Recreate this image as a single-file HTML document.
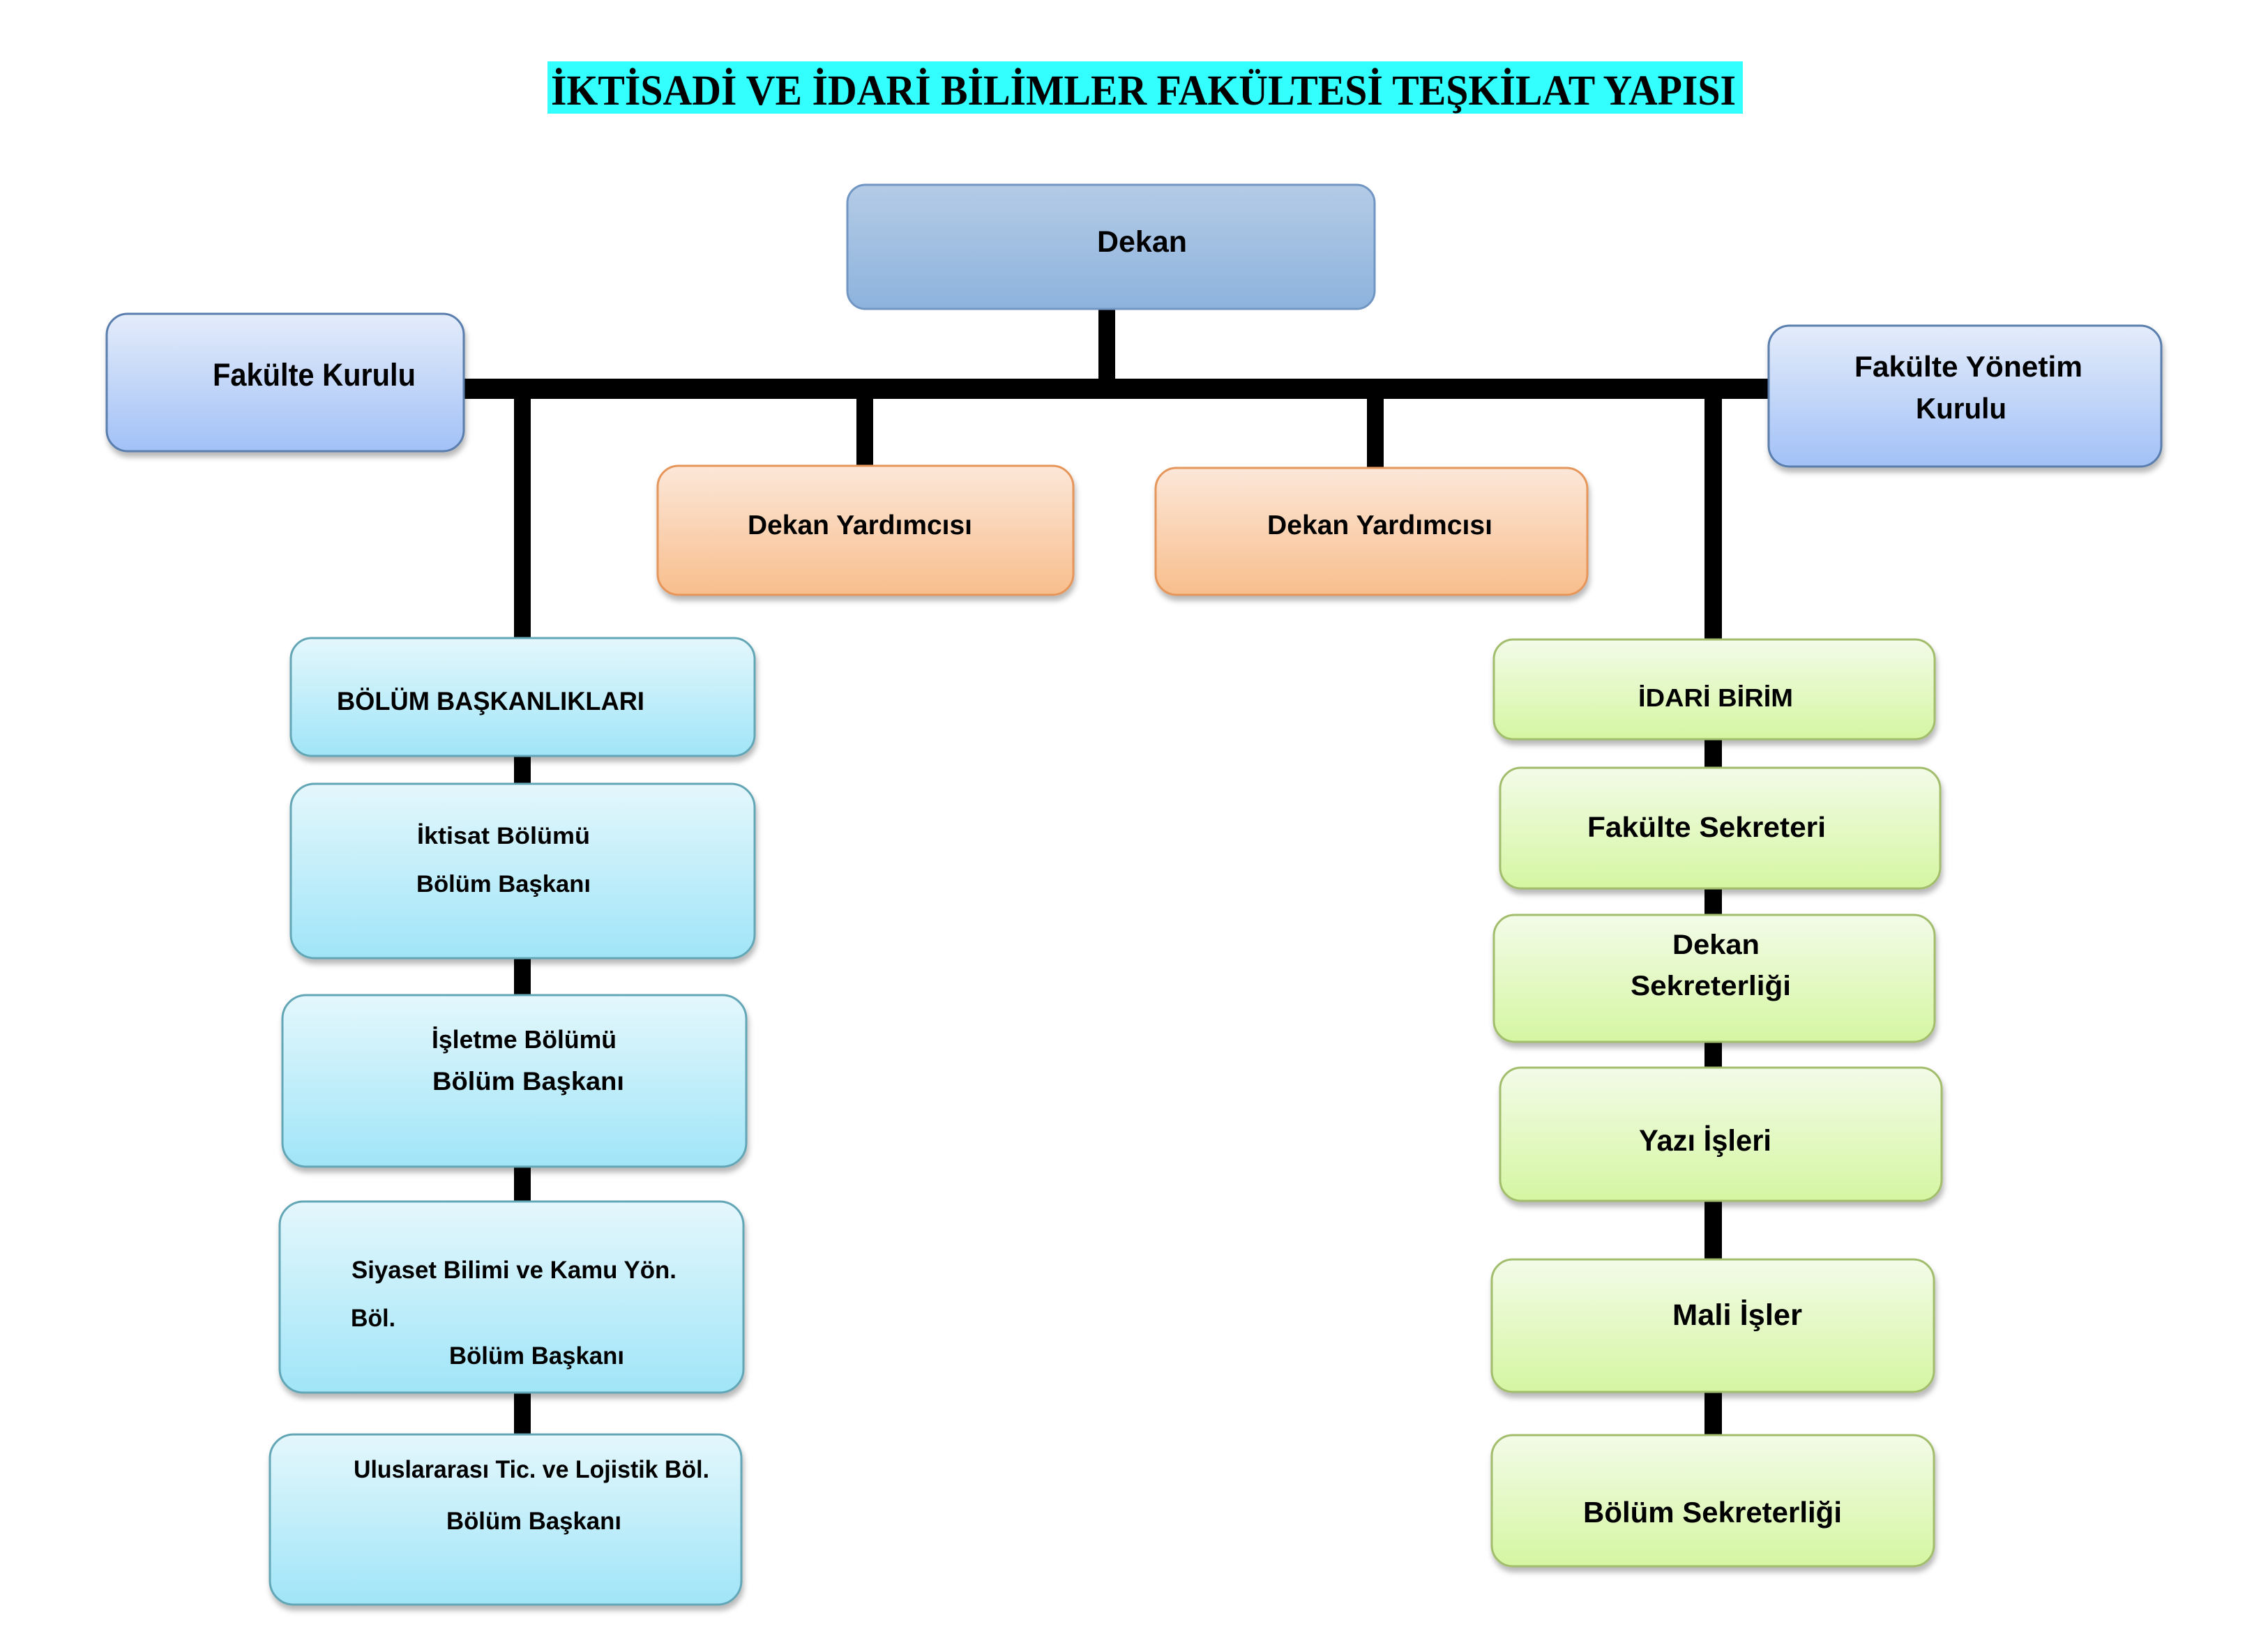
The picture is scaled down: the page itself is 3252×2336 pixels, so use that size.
<!DOCTYPE html>
<html>
<head>
<meta charset="utf-8">
<style>
html,body{margin:0;padding:0;background:#ffffff;}
body{width:3252px;height:2336px;overflow:hidden;}
svg{display:block;}
text{font-family:"Liberation Sans",Arial,sans-serif;font-weight:bold;fill:#000;}
</style>
</head>
<body>
<svg width="3252" height="2336" viewBox="0 0 3252 2336" xmlns="http://www.w3.org/2000/svg">
<defs>
  <linearGradient id="gDekan" x1="0" y1="0" x2="0" y2="1">
    <stop offset="0" stop-color="#b4cbe6"/>
    <stop offset="1" stop-color="#8db3dd"/>
  </linearGradient>
  <linearGradient id="gFk" x1="0" y1="0" x2="0" y2="1">
    <stop offset="0" stop-color="#e4ecfa"/>
    <stop offset="1" stop-color="#a2c1f7"/>
  </linearGradient>
  <linearGradient id="gDy" x1="0" y1="0" x2="0" y2="1">
    <stop offset="0" stop-color="#fce7d9"/>
    <stop offset="1" stop-color="#f8be8c"/>
  </linearGradient>
  <linearGradient id="gCy" x1="0" y1="0" x2="0" y2="1">
    <stop offset="0" stop-color="#e4f7fc"/>
    <stop offset="1" stop-color="#a0e5f8"/>
  </linearGradient>
  <linearGradient id="gGr" x1="0" y1="0" x2="0" y2="1">
    <stop offset="0" stop-color="#f3fbe8"/>
    <stop offset="1" stop-color="#d5f6a2"/>
  </linearGradient>
  <filter id="sh" x="-5%" y="-10%" width="112%" height="130%">
    <feDropShadow dx="2" dy="7" stdDeviation="4" flood-color="#000" flood-opacity="0.28"/>
  </filter>
</defs>

<!-- Title -->
<rect x="785" y="88" width="1714" height="75" fill="#33ffff"/>
<text x="790" y="150" font-size="61" textLength="1699" lengthAdjust="spacingAndGlyphs" style="font-family:'Liberation Serif','Times New Roman',serif;font-weight:bold;">İKTİSADİ VE İDARİ BİLİMLER FAKÜLTESİ TEŞKİLAT YAPISI</text>

<!-- Connectors -->
<rect x="1575" y="440" width="24" height="106" fill="#000"/>
<rect x="664" y="543" width="1874" height="29" fill="#000"/>
<rect x="737" y="560" width="24" height="1500" fill="#000"/>
<rect x="2444" y="560" width="25" height="1500" fill="#000"/>
<rect x="1228" y="560" width="24" height="110" fill="#000"/>
<rect x="1960" y="560" width="24" height="113" fill="#000"/>

<!-- Dekan -->
<rect x="1215" y="265" width="756" height="178" rx="26" ry="26" fill="url(#gDekan)" stroke="#7196c4" stroke-width="3"/>
<text x="1573" y="361" font-size="43" textLength="129" lengthAdjust="spacingAndGlyphs">Dekan</text>

<!-- Fakülte Kurulu -->
<g filter="url(#sh)">
<rect x="153" y="450" width="512" height="197" rx="30" ry="30" fill="url(#gFk)" stroke="#5a7eae" stroke-width="3"/>
</g>
<text x="305" y="553" font-size="45" textLength="291" lengthAdjust="spacingAndGlyphs">Fakülte Kurulu</text>

<!-- Fakülte Yönetim Kurulu -->
<g filter="url(#sh)">
<rect x="2536" y="467" width="563" height="202" rx="30" ry="30" fill="url(#gFk)" stroke="#5a7eae" stroke-width="3"/>
</g>
<text x="2659" y="540" font-size="42" textLength="327" lengthAdjust="spacingAndGlyphs">Fakülte Yönetim</text>
<text x="2747" y="600" font-size="42" textLength="130" lengthAdjust="spacingAndGlyphs">Kurulu</text>

<!-- Dekan Yardımcısı -->
<g filter="url(#sh)">
<rect x="943" y="668" width="596" height="185" rx="30" ry="30" fill="url(#gDy)" stroke="#e6965a" stroke-width="3"/>
<rect x="1657" y="671" width="619" height="182" rx="30" ry="30" fill="url(#gDy)" stroke="#e6965a" stroke-width="3"/>
</g>
<text x="1072" y="766" font-size="39" textLength="322" lengthAdjust="spacingAndGlyphs">Dekan Yardımcısı</text>
<text x="1817" y="766" font-size="39" textLength="323" lengthAdjust="spacingAndGlyphs">Dekan Yardımcısı</text>

<!-- Left column -->
<g filter="url(#sh)">
<rect x="417" y="915" width="665" height="169" rx="30" ry="30" fill="url(#gCy)" stroke="#63a7b7" stroke-width="3"/>
<rect x="417" y="1124" width="665" height="250" rx="34" ry="34" fill="url(#gCy)" stroke="#63a7b7" stroke-width="3"/>
<rect x="405" y="1427" width="665" height="246" rx="34" ry="34" fill="url(#gCy)" stroke="#63a7b7" stroke-width="3"/>
<rect x="401" y="1723" width="665" height="274" rx="34" ry="34" fill="url(#gCy)" stroke="#63a7b7" stroke-width="3"/>
<rect x="387" y="2057" width="676" height="244" rx="34" ry="34" fill="url(#gCy)" stroke="#63a7b7" stroke-width="3"/>
</g>
<text x="483" y="1018" font-size="37" textLength="441" lengthAdjust="spacingAndGlyphs">BÖLÜM BAŞKANLIKLARI</text>
<text x="598" y="1210" font-size="34" textLength="248" lengthAdjust="spacingAndGlyphs">İktisat Bölümü</text>
<text x="597" y="1279" font-size="34" textLength="250" lengthAdjust="spacingAndGlyphs">Bölüm Başkanı</text>
<text x="619" y="1503" font-size="36" textLength="265" lengthAdjust="spacingAndGlyphs">İşletme Bölümü</text>
<text x="620" y="1563" font-size="37" textLength="275" lengthAdjust="spacingAndGlyphs">Bölüm Başkanı</text>
<text x="504" y="1833" font-size="35" textLength="466" lengthAdjust="spacingAndGlyphs">Siyaset Bilimi ve Kamu Yön.</text>
<text x="503" y="1902" font-size="35" textLength="64" lengthAdjust="spacingAndGlyphs">Böl.</text>
<text x="644" y="1956" font-size="35" textLength="251" lengthAdjust="spacingAndGlyphs">Bölüm Başkanı</text>
<text x="507" y="2119" font-size="35" textLength="510" lengthAdjust="spacingAndGlyphs">Uluslararası Tic. ve Lojistik Böl.</text>
<text x="640" y="2193" font-size="35" textLength="251" lengthAdjust="spacingAndGlyphs">Bölüm Başkanı</text>

<!-- Right column -->
<g filter="url(#sh)">
<rect x="2142" y="917" width="632" height="143" rx="28" ry="28" fill="url(#gGr)" stroke="#a2be6c" stroke-width="3"/>
<rect x="2151" y="1101" width="631" height="173" rx="30" ry="30" fill="url(#gGr)" stroke="#a2be6c" stroke-width="3"/>
<rect x="2142" y="1312" width="632" height="182" rx="30" ry="30" fill="url(#gGr)" stroke="#a2be6c" stroke-width="3"/>
<rect x="2151" y="1531" width="633" height="191" rx="30" ry="30" fill="url(#gGr)" stroke="#a2be6c" stroke-width="3"/>
<rect x="2139" y="1806" width="634" height="190" rx="30" ry="30" fill="url(#gGr)" stroke="#a2be6c" stroke-width="3"/>
<rect x="2139" y="2058" width="634" height="188" rx="30" ry="30" fill="url(#gGr)" stroke="#a2be6c" stroke-width="3"/>
</g>
<text x="2349" y="1013" font-size="36" textLength="222" lengthAdjust="spacingAndGlyphs">İDARİ BİRİM</text>
<text x="2276" y="1200" font-size="41" textLength="342" lengthAdjust="spacingAndGlyphs">Fakülte Sekreteri</text>
<text x="2398" y="1368" font-size="40" textLength="125" lengthAdjust="spacingAndGlyphs">Dekan</text>
<text x="2338" y="1427" font-size="40" textLength="230" lengthAdjust="spacingAndGlyphs">Sekreterliği</text>
<text x="2350" y="1650" font-size="43" textLength="190" lengthAdjust="spacingAndGlyphs">Yazı İşleri</text>
<text x="2398" y="1900" font-size="43" textLength="186" lengthAdjust="spacingAndGlyphs">Mali İşler</text>
<text x="2270" y="2183" font-size="42" textLength="371" lengthAdjust="spacingAndGlyphs">Bölüm Sekreterliği</text>
</svg>
</body>
</html>
